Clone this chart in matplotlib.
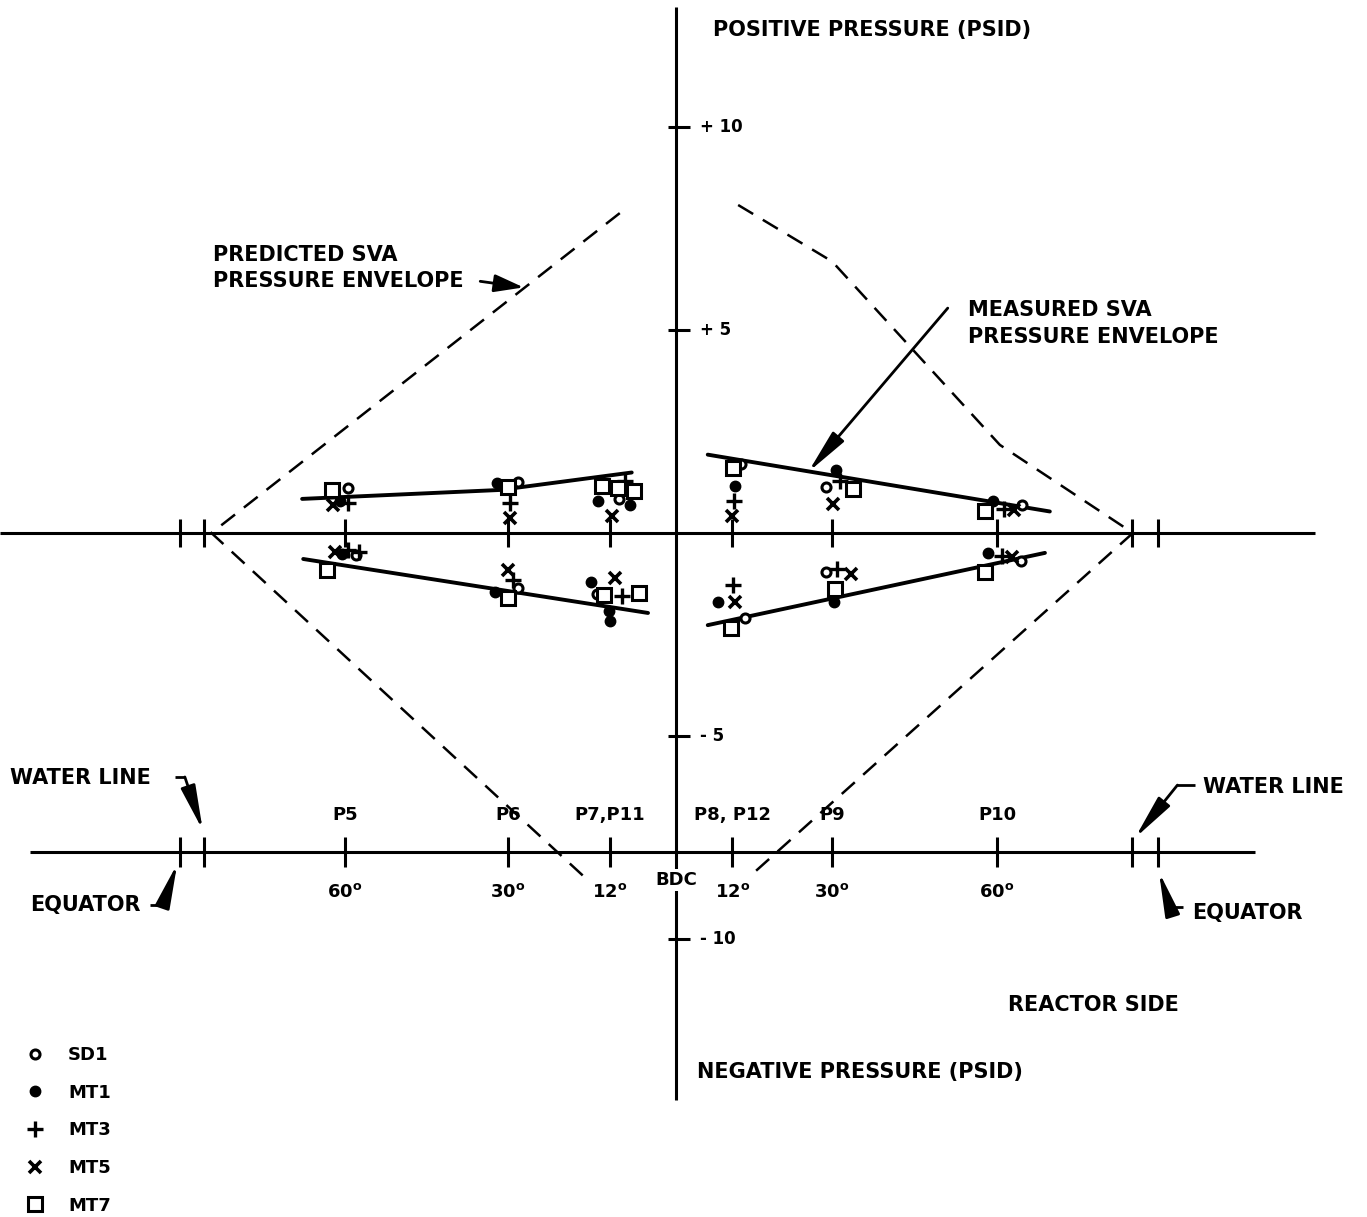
import matplotlib
matplotlib.use("Agg")
import matplotlib.pyplot as plt

# SVA pressure envelope chart - x is degrees from BDC (left side negative), y is psid

# station positions along the circumference
STATION_X = [-60.4, -30.4, -11.6, 10.9, 29.3, 59.7]
STATION_NAMES = ["P5", "P6", "P7,P11", "P8, P12", "P9", "P10"]
ANGLE_LABELS = ["60", "30", "12", "12", "30", "60"]
WATER_X = [-86.3, 84.5]
EQUATOR_X = [-90.8, 89.3]

PSI_TICKS = [10, 5, -5, -10]
PSI_LABELS = ["+ 10", "+ 5", "- 5", "- 10"]

# measured pressures (psid) per test
SD1_X = [-59.9, -58.4, -28.5, -28.5, -10.0, -14.0, 12.5, 13.3, 28.2, 28.2, 64.3, 64.0]
SD1_Y = [1.12, -0.53, 1.26, -1.36, 0.84, -1.50, 1.71, -2.09, 1.14, -0.95, 0.69, -0.69]

MT1_X = [-61.3, -61.0, -32.4, -32.8, -13.8, -7.9, -15.1, -11.8, -11.6, 11.4, 8.3, 30.1, 29.6, 59.0, 58.0]
MT1_Y = [0.78, -0.52, 1.23, -1.46, 0.79, 0.69, -1.20, -1.91, -2.16, 1.17, -1.70, 1.56, -1.70, 0.79, -0.49]

MT3_X = [-59.9, -59.9, -57.8, -30.0, -29.5, -8.8, -9.4, 11.2, 11.0, 30.8, 30.2, 61.0, 60.6]
MT3_Y = [0.75, -0.43, -0.46, 0.74, -1.16, 1.28, -1.54, 0.80, -1.28, 1.29, -0.88, 0.59, -0.57]

MT5_X = [-62.6, -62.2, -30.0, -30.4, -11.2, -10.7, 10.9, 11.4, 29.5, 32.8, 62.8, 62.4]
MT5_Y = [0.70, -0.48, 0.37, -0.91, 0.42, -1.12, 0.42, -1.70, 0.72, -1.00, 0.57, -0.59]

MT7_X = [-62.8, -63.7, -30.4, -30.4, -13.1, -10.2, -7.2, -12.7, -6.2, 11.0, 10.7, 33.1, 29.8, 57.5, 57.5]
MT7_Y = [1.07, -0.90, 1.14, -1.60, 1.16, 1.10, 1.04, -1.52, -1.47, 1.61, -2.34, 1.09, -1.38, 0.54, -0.97]

# measured envelope lines
MEAS_UL_X = [-68.3, -31.9, -7.6]
MEAS_UL_Y = [0.84, 1.06, 1.49]
MEAS_LL_X = [-68.1, -4.6]
MEAS_LL_Y = [-0.64, -1.97]
MEAS_UR_X = [6.4, 69.4]
MEAS_UR_Y = [1.93, 0.53]
MEAS_LR_X = [6.4, 68.5]
MEAS_LR_Y = [-2.27, -0.49]

# predicted envelope (dashed)
PRED_L_X = [-9.8, -85.0, -15.7]
PRED_L_Y = [7.88, 0.0, -8.55]
PRED_R_X = [12.0, 29.3, 60.2, 84.7, 13.8]
PRED_R_Y = [8.08, 6.69, 2.17, 0.0, -8.50]

ANGLE_AXIS_Y = -7.85
VAX_X = 0.6
FS_BIG = 15   # word labels
FS = 13       # station / angle / legend labels

plt.rcParams["font.family"] = ["DejaVu Sans"]
plt.rcParams["font.weight"] = "bold"

fig = plt.figure(figsize=(13.67, 12.17), dpi=100)
ax = fig.add_axes([0, 0, 1, 1])
ax.set_xlim(-123.94, 127.81)
ax.set_ylim(-16.85, 13.13)
ax.axis("off")

k = dict(color="black", solid_capstyle="butt")

# axes lines
ax.plot([-124, 118.2], [0, 0], lw=2.2, **k)
ax.plot([-118.4, 107.2], [ANGLE_AXIS_Y, ANGLE_AXIS_Y], lw=2.2, **k)
ax.plot([VAX_X, VAX_X], [12.95, -13.96], lw=2.2, **k)

for t in PSI_TICKS:
    ax.plot([VAX_X - 1.6, VAX_X + 2.6], [t, t], lw=2.2, **k)
for t, lab in zip(PSI_TICKS, PSI_LABELS):
    ax.text(5.0, t, lab, fontsize=12, va="center", ha="left")

tick_x = STATION_X + WATER_X + EQUATOR_X
for x in tick_x:
    ax.plot([x, x], [-0.35, 0.35], lw=2.2, **k)
    ax.plot([x, x], [ANGLE_AXIS_Y - 0.37, ANGLE_AXIS_Y + 0.37], lw=2.2, **k)

for x, name, ang in zip(STATION_X, STATION_NAMES, ANGLE_LABELS):
    ax.text(x, ANGLE_AXIS_Y + 0.9, name, fontsize=FS, ha="center", va="center")
    ax.text(x, ANGLE_AXIS_Y - 1.0, ang + r"$^{\mathbf{o}}$", fontsize=FS,
            ha="center", va="center")
ax.text(VAX_X, ANGLE_AXIS_Y - 0.7, "BDC", fontsize=FS, ha="center", va="center",
        bbox=dict(facecolor="white", edgecolor="none", pad=1.5))

# predicted envelope
ax.plot(PRED_L_X, PRED_L_Y, lw=1.8, dashes=(7, 4.5), color="black")
ax.plot(PRED_R_X, PRED_R_Y, lw=1.8, dashes=(7, 4.5), color="black")

# measured envelope
for xs, ys in [(MEAS_UL_X, MEAS_UL_Y), (MEAS_LL_X, MEAS_LL_Y),
               (MEAS_UR_X, MEAS_UR_Y), (MEAS_LR_X, MEAS_LR_Y)]:
    ax.plot(xs, ys, lw=2.8, color="black", solid_capstyle="round")

# data markers
ax.plot(SD1_X, SD1_Y, ls="none", marker="o", ms=6.5, mfc="white", mec="black", mew=2.2, label="SD1", zorder=5)
ax.plot(MT1_X, MT1_Y, ls="none", marker="o", ms=7.5, mfc="black", mec="black", label="MT1", zorder=5)
ax.plot(MT3_X, MT3_Y, ls="none", marker="+", ms=12, mew=2.4, color="black", label="MT3", zorder=5)
ax.plot(MT5_X, MT5_Y, ls="none", marker="x", ms=9, mew=2.6, color="black", label="MT5", zorder=5)
ax.plot(MT7_X, MT7_Y, ls="none", marker="s", ms=10, mfc="white", mec="black", mew=2.2, label="MT7", zorder=5)

# text labels
ax.text(7.4, 12.39, "POSITIVE PRESSURE (PSID)", fontsize=FS_BIG, va="center")
ax.text(4.4, -13.28, "NEGATIVE PRESSURE (PSID)", fontsize=FS_BIG, va="center")
ax.text(61.7, -11.63, "REACTOR SIDE", fontsize=FS_BIG, va="center")

ax.text(-84.7, 6.85, "PREDICTED SVA", fontsize=FS_BIG, va="center")
ax.text(-84.7, 6.21, "PRESSURE ENVELOPE", fontsize=FS_BIG, va="center")
ax.text(54.3, 5.49, "MEASURED SVA", fontsize=FS_BIG, va="center")
ax.text(54.3, 4.83, "PRESSURE ENVELOPE", fontsize=FS_BIG, va="center")

arrow = dict(arrowstyle="-|>,head_length=1.5,head_width=0.25", lw=2, color="black",
             shrinkA=0, shrinkB=0, mutation_scale=18)
ax.annotate("", xy=(-27.5, 6.05), xytext=(-35.5, 6.2),
            arrowprops=dict(arrow, arrowstyle="-|>,head_length=1.0,head_width=0.3"))
ax.annotate("", xy=(24.9, 1.50), xytext=(50.6, 5.54), arrowprops=arrow)

# water line / equator callouts
ax.text(-122.1, -6.03, "WATER LINE", fontsize=FS_BIG, va="center")
ax.plot([-91.7, -89.9], [-6.01, -6.01], lw=2, **k)
ax.annotate("", xy=(-86.6, -7.32), xytext=(-89.9, -6.01), arrowprops=arrow)
ax.text(-118.4, -9.16, "EQUATOR", fontsize=FS_BIG, va="center")
ax.plot([-96.4, -93.9], [-9.16, -9.16], lw=2, **k)
ax.annotate("", xy=(-91.3, -8.15), xytext=(-93.9, -9.16), arrowprops=arrow)

ax.text(97.6, -6.26, "WATER LINE", fontsize=FS_BIG, va="center")
ax.plot([96.1, 92.9], [-6.21, -6.21], lw=2, **k)
ax.annotate("", xy=(85.1, -7.51), xytext=(92.9, -6.21), arrowprops=arrow)
ax.text(95.6, -9.36, "EQUATOR", fontsize=FS_BIG, va="center")
ax.plot([94.0, 91.5], [-9.21, -9.21], lw=2, **k)
ax.annotate("", xy=(89.5, -8.35), xytext=(91.5, -9.21), arrowprops=arrow)

ax.legend(loc="lower left", bbox_to_anchor=(0.0177, 0.002), frameon=False, fontsize=FS,
          handlelength=1.2, handletextpad=1.22, labelspacing=1.09, borderpad=0, borderaxespad=0)

fig.savefig("out.png", dpi=100)
